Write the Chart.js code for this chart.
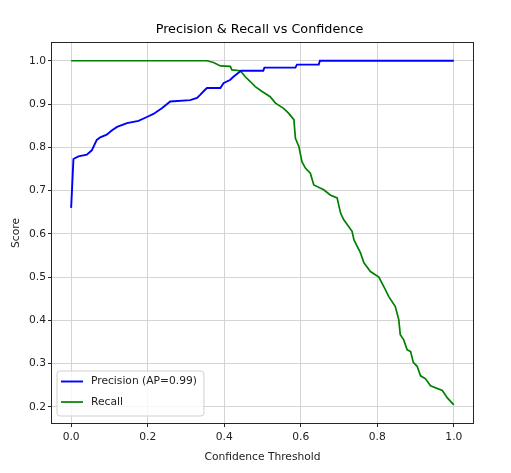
<!DOCTYPE html>
<html>
<head>
<meta charset="utf-8">
<script src="https://cdn.jsdelivr.net/npm/chart.js@4/dist/chart.umd.min.js"></script>
<style>
  html, body { margin: 0; padding: 0; background: #ffffff; }
  #c { display: block; }
</style>
</head>
<body>
<canvas id="c" width="511" height="473"></canvas>
<script>
// ---- Data ----
const chartTitle = 'Precision & Recall vs Confidence';
const xAxisTitle = 'Confidence Threshold';
const yAxisTitle = 'Score';
const precisionLabel = 'Precision (AP=0.99)';
const recallLabel = 'Recall';

const precisionX = [0, 0.006, 0.019, 0.041, 0.054, 0.067, 0.076, 0.093, 0.106, 0.12, 0.146, 0.176, 0.198, 0.215, 0.237, 0.259, 0.311, 0.329, 0.337, 0.35, 0.355, 0.39, 0.398, 0.416, 0.424, 0.438, 0.444, 0.502, 0.505, 0.586, 0.59, 0.647, 0.65, 1.0];
const precisionY = [0.66, 0.773, 0.779, 0.783, 0.793, 0.817, 0.823, 0.829, 0.839, 0.847, 0.856, 0.861, 0.870, 0.877, 0.890, 0.906, 0.909, 0.914, 0.921, 0.933, 0.937, 0.937, 0.948, 0.956, 0.963, 0.973, 0.977, 0.977, 0.984, 0.984, 0.991, 0.991, 1.0, 1.0];

const recallX = [0, 0.355, 0.372, 0.39, 0.416, 0.42, 0.442, 0.455, 0.468, 0.481, 0.499, 0.52, 0.534, 0.555, 0.568, 0.582, 0.586, 0.595, 0.603, 0.612, 0.625, 0.634, 0.66, 0.677, 0.695, 0.704, 0.712, 0.725, 0.734, 0.739, 0.756, 0.765, 0.782, 0.804, 0.821, 0.830, 0.847, 0.856, 0.860, 0.869, 0.878, 0.887, 0.894, 0.904, 0.913, 0.926, 0.939, 0.970, 0.983, 1.0];
const recallY = [1.0, 1.0, 0.996, 0.988, 0.987, 0.979, 0.977, 0.963, 0.952, 0.940, 0.929, 0.917, 0.902, 0.890, 0.879, 0.864, 0.821, 0.802, 0.767, 0.752, 0.740, 0.713, 0.702, 0.690, 0.683, 0.648, 0.633, 0.617, 0.606, 0.586, 0.556, 0.533, 0.513, 0.500, 0.471, 0.455, 0.432, 0.402, 0.367, 0.355, 0.332, 0.328, 0.303, 0.294, 0.272, 0.265, 0.249, 0.238, 0.221, 0.205];

const xTickStep = 0.2;
const yTickStep = 0.1;

// ---- Build chart ----
const FONT = "'DejaVu Sans', 'Liberation Sans', sans-serif";
const TICK_SIZE = 10.7;
const TITLE_SIZE = 12.8;
const toPoints = (xs, ys) => xs.map((x, i) => ({ x: x, y: ys[i] }));

const frameAndLegend = {
  id: 'frameAndLegend',
  afterDatasetsDraw(chart) {
    const ctx = chart.ctx;
    const ca = chart.chartArea;
    ctx.save();
    // axes frame (spines)
    ctx.strokeStyle = '#262626';
    ctx.lineWidth = 1;
    ctx.strokeRect(Math.round(ca.left) - 0.5, Math.round(ca.top) - 0.5,
                   Math.round(ca.right - ca.left) + 1, Math.round(ca.bottom - ca.top) + 1);
    // legend (lower left)
    const ds = chart.data.datasets;
    ctx.font = TICK_SIZE + 'px ' + FONT;
    let maxW = 0;
    ds.forEach(d => { maxW = Math.max(maxW, ctx.measureText(d.label).width); });
    const bx = ca.left + 5, by = ca.bottom - 52;
    const bw = 34 + maxW + 7, bh = 45;
    const r = 3;
    ctx.beginPath();
    ctx.moveTo(bx + r, by);
    ctx.lineTo(bx + bw - r, by);
    ctx.quadraticCurveTo(bx + bw, by, bx + bw, by + r);
    ctx.lineTo(bx + bw, by + bh - r);
    ctx.quadraticCurveTo(bx + bw, by + bh, bx + bw - r, by + bh);
    ctx.lineTo(bx + r, by + bh);
    ctx.quadraticCurveTo(bx, by + bh, bx, by + bh - r);
    ctx.lineTo(bx, by + r);
    ctx.quadraticCurveTo(bx, by, bx + r, by);
    ctx.closePath();
    ctx.fillStyle = 'rgba(255,255,255,0.8)';
    ctx.fill();
    ctx.strokeStyle = '#d0d0d0';
    ctx.stroke();
    ds.forEach((d, i) => {
      const yy = by + 10.5 + i * 20.5;
      ctx.strokeStyle = d.borderColor;
      ctx.lineWidth = d.borderWidth;
      ctx.beginPath();
      ctx.moveTo(bx + 4, yy);
      ctx.lineTo(bx + 26, yy);
      ctx.stroke();
      ctx.fillStyle = '#222';
      ctx.textBaseline = 'middle';
      ctx.textAlign = 'left';
      ctx.fillText(d.label, bx + 34, yy);
    });
    ctx.restore();
  }
};

new Chart(document.getElementById('c'), {
  type: 'line',
  data: {
    datasets: [
      { label: precisionLabel, data: toPoints(precisionX, precisionY),
        borderColor: '#0000ff', borderWidth: 1.9, pointRadius: 0, tension: 0, fill: false },
      { label: recallLabel, data: toPoints(recallX, recallY),
        borderColor: '#008000', borderWidth: 1.7, pointRadius: 0, tension: 0, fill: false }
    ]
  },
  options: {
    responsive: false,
    animation: false,
    devicePixelRatio: 1,
    layout: { padding: { left: 8, right: 0, top: 0, bottom: 0 } },
    plugins: {
      legend: { display: false },
      tooltip: { enabled: false },
      title: {
        display: true, text: chartTitle, color: '#000',
        font: { family: FONT, size: TITLE_SIZE, weight: 'normal' },
        padding: { top: 22, bottom: 5.64 }
      }
    },
    scales: {
      x: {
        type: 'linear', min: -0.05, max: 1.05,
        ticks: { stepSize: xTickStep, includeBounds: false, color: '#222', padding: 4,
                 font: { family: FONT, size: TICK_SIZE }, maxRotation: 0,
                 callback: v => Number(v).toFixed(1) },
        grid: { color: '#d4d4d4', lineWidth: 1, tickColor: '#262626', tickLength: 4 },
        border: { display: false },
        title: { display: true, text: xAxisTitle, color: '#222',
                 font: { family: FONT, size: TICK_SIZE }, padding: { top: 0, bottom: 9.6 } },
        afterFit: s => { s.height = 50; }
      },
      y: {
        type: 'linear', min: 0.163, max: 1.041,
        ticks: { stepSize: yTickStep, includeBounds: false, color: '#222', padding: 2,
                 font: { family: FONT, size: TICK_SIZE },
                 callback: v => Number(v).toFixed(1) },
        grid: { color: '#d4d4d4', lineWidth: 1, tickColor: '#262626', tickLength: 4 },
        border: { display: false },
        title: { display: true, text: yAxisTitle, color: '#222',
                 font: { family: FONT, size: TICK_SIZE }, padding: { top: 1.6, bottom: 0 } },
        afterFit: s => { s.width = 44; }
      },
      spacer: {
        type: 'linear', position: 'right', display: true, min: 0, max: 1,
        ticks: { display: false },
        grid: { display: false, drawOnChartArea: false, drawTicks: false },
        border: { display: false },
        afterFit: s => { s.width = 38; }
      }
    }
  },
  plugins: [frameAndLegend]
});
</script>
</body>
</html>
